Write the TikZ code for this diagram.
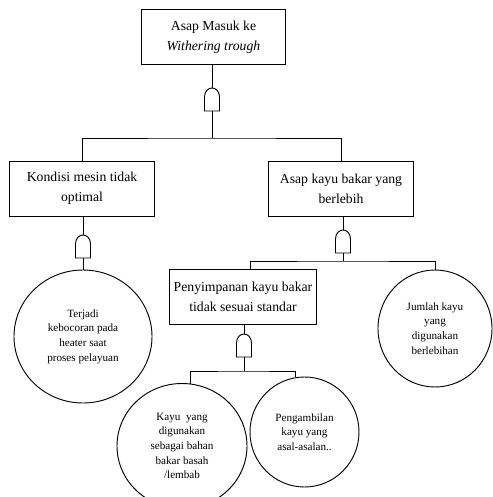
\documentclass[tikz,border=0pt]{standalone}
\usepackage{fontspec}
\setmainfont{Liberation Serif}
\usetikzlibrary{shapes.geometric,positioning}

\tikzset{
  box/.style={draw, thick, rectangle, align=center, minimum width=4.33cm, minimum height=1.65cm,
    font=\fontsize{11.7}{17}\selectfont},
  bubble/.style={draw, thick, ellipse, align=center, inner sep=0pt, font=\fontsize{9.5}{12.5}\selectfont},
  wire/.style={thick},
  andgate/.pic={
    \draw[thick] (-7.5,0) -- (-7.5,-14) .. controls (-7.5,-20) and (-3.5,-23) .. (0,-23)
      .. controls (3.5,-23) and (7.5,-20) .. (7.5,-14) -- (7.5,0) -- cycle;
    \coordinate (-in) at (0,-23);
    \coordinate (-out) at (0,0);
  }
}

\begin{document}
\begin{tikzpicture}[x=0.03cm, y=-0.03cm]
  \useasboundingbox (0,0) rectangle (492,497);

  % Top event
  \node[box] (top) at (213.5,37) {Asap Masuk ke\\ \textit{Withering trough}};
  \pic (g1) at (212,111) {andgate};
  \coordinate (j1) at (212,138);

  % Level 2
  \node[box] (kondisi) at (82,188.5) {Kondisi mesin tidak\\ optimal};
  \node[box] (asap) at (341,188.5) {Asap kayu bakar yang\\ berlebih};

  \pic (g2) at (83,258) {andgate};
  \pic (g3) at (343,253) {andgate};
  \coordinate (j3) at (343,261);

  % Level 3
  \node[bubble, minimum width=4.14cm, minimum height=3.99cm] (terjadi) at (83,336.5)
    {Terjadi\\ kebocoran pada\\ heater saat\\ proses pelayuan};
  \node[box] (simpan) at (243,296.5) {Penyimpanan kayu bakar\\ tidak sesuai standar};
  \node[bubble, minimum width=3.42cm, minimum height=3.51cm] (jumlah) at (435,328.5)
    {Jumlah kayu\\ yang\\ digunakan\\ berlebihan};

  \pic (g4) at (244,357) {andgate};
  \coordinate (j4) at (244,371);

  % Level 4
  \node[bubble, minimum width=3.9cm, minimum height=3.75cm] (kayu) at (182,446)
    {Kayu\ \ yang\\ digunakan\\ sebagai bahan\\ bakar basah\\ /lembab};
  \node[bubble, minimum width=3.27cm, minimum height=3.3cm] (ambil) at (304.5,432)
    {Pengambilan\\ kayu yang\\ asal-asalan..};

  % Connectors
  \draw[wire] (top.south -| g1-in) -- (g1-in);
  \draw[wire] (g1-out) -- (j1);
  \draw[wire] (kondisi.north) |- (j1) -| (asap.north);

  \draw[wire] (kondisi.south -| g2-in) -- (g2-in);
  \draw[wire] (g2-out) -- (terjadi.north);

  \draw[wire] (asap.south -| g3-in) -- (g3-in);
  \draw[wire] (g3-out) -- (j3);
  \draw[wire] ([xshift=6pt]simpan.north) |- (j3) -| (jumlah.north);

  \draw[wire] (simpan.south -| g4-in) -- (g4-in);
  \draw[wire] (g4-out) -- (j4);
  \draw[wire] (kayu.82) |- (j4) -| (ambil.99);
\end{tikzpicture}
\end{document}
